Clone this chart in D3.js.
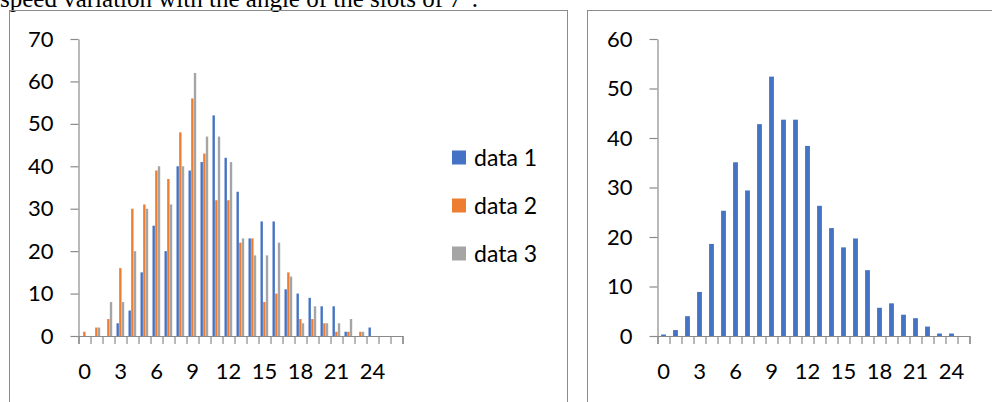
<!DOCTYPE html>
<html>
<head>
<meta charset="utf-8">
<script src="https://cdn.jsdelivr.net/npm/d3@7"></script>
<style>
  body { margin: 0; background: #fff; }
  svg { display: block; }
  text { font-family: Lato, "Open Sans", sans-serif; fill: #000; }
  .caption { font-family: "Liberation Serif", "Times New Roman", serif; font-size: 25px; }
</style>
</head>
<body>
<div id="chart"></div>
<script>
// left chart: three series, 27 categories
var cats1 = [0,1,2,3,4,5,6,7,8,9,10,11,12,13,14,15,16,17,18,19,20,21,22,23,24,25,26];
var data1 = [0,0,0,3,6,15,26,20,40,39,41,52,42,34,23,27,27,11,10,9,7,7,1,0,2,0,0];
var data2 = [1,2,4,16,30,31,39,37,48,56,43,32,32,22,23,8,10,15,4,4,3,1,1,1,0,0,0];
var data3 = [0,2,8,8,20,30,40,31,40,62,47,47,41,23,19,19,22,14,3,7,3,3,4,1,0,0,0];
var seriesNames = ["data 1", "data 2", "data 3"];
var yTicks1 = [0,10,20,30,40,50,60,70];

// right chart: one series, 26 categories
var cats2 = [0,1,2,3,4,5,6,7,8,9,10,11,12,13,14,15,16,17,18,19,20,21,22,23,24,25];
var values2 = [0.3,1.2,4.0,8.9,18.6,25.3,35.1,29.4,42.8,52.4,43.7,43.7,38.4,26.3,21.8,17.9,19.7,13.3,5.7,6.6,4.3,3.6,1.9,0.5,0.5,0];
var yTicks2 = [0,10,20,30,40,50,60];

var colors = ["#4472C4", "#ED7D31", "#A5A5A5"];
var axisColor = "#8a8a8a";

var svg = d3.select("#chart").append("svg")
    .attr("width", 992)
    .attr("height", 402);

// caption line, cut off at the top like in the page scan
svg.append("text")
    .attr("class", "caption")
    .attr("x", 0)
    .attr("y", 7)
    .attr("font-size", 25)
    .attr("textLength", 478)
    .attr("lengthAdjust", "spacingAndGlyphs")
    .text("speed variation with the angle of the slots of 7°.");

// frames
svg.append("rect").attr("x", 9.5).attr("y", 10.5).attr("width", 558).attr("height", 420)
    .style("fill", "none").style("stroke", "#8c8c8c");
svg.append("rect").attr("x", 587.5).attr("y", 10.5).attr("width", 420).attr("height", 420)
    .style("fill", "none").style("stroke", "#8c8c8c");

function styleAxis(g) {
  g.selectAll("path, line").style("stroke", axisColor).style("stroke-width", 1.2);
  g.selectAll("text").style("font-size", "22px").style("fill", "#000")
    .style("font-family", "Lato, 'Open Sans', sans-serif");
}

function drawAxes(x, y, cats, yTicks, x0, x1) {
  var nb = cats.length;
  // y axis
  svg.append("g")
      .attr("transform", "translate(" + x0 + ",0)")
      .call(d3.axisLeft(y).tickValues(yTicks).tickSize(8).tickSizeOuter(0).tickPadding(17))
      .call(styleAxis);
  // tick marks on category boundaries
  var edges = d3.scaleLinear().domain([0, nb]).range([x0, x1]);
  svg.append("g")
      .attr("transform", "translate(0," + y(0) + ")")
      .call(d3.axisBottom(edges).ticks(nb).tickFormat("").tickSize(8).tickSizeOuter(8))
      .call(styleAxis);
  // labels every third category
  svg.append("g")
      .attr("transform", "translate(0," + y(0) + ")")
      .call(d3.axisBottom(x).tickValues(cats.filter(function(d){ return d % 3 === 0; }))
        .tickSize(0).tickPadding(27))
      .call(function(g){ g.select(".domain").remove(); })
      .call(styleAxis);
}

// ---- left chart ----
var x1 = d3.scaleBand().domain(cats1).range([78.5, 402.5]).paddingInner(1/3).paddingOuter(1/6);
var y1 = d3.scaleLinear().domain([0, 70]).range([336, 39]);
var xs = d3.scaleBand().domain([0,1,2]).range([0, x1.bandwidth()]);
var allSeries = [data1, data2, data3];

allSeries.forEach(function(vals, s) {
  svg.append("g").selectAll("rect")
      .data(vals)
      .enter()
      .append("rect")
      .attr("x", function(d, i){ return x1(cats1[i]) + xs(s); })
      .attr("y", function(d){ return y1(d); })
      .attr("width", xs.bandwidth() - 0.3)
      .attr("height", function(d){ return y1(0) - y1(d); })
      .style("fill", colors[s]);
});
drawAxes(x1, y1, cats1, yTicks1, 78.5, 402.5);

// legend
var legend = svg.append("g").selectAll("g")
    .data(seriesNames)
    .enter()
    .append("g")
    .attr("transform", function(d, i){ return "translate(452," + (150.5 + i * 48) + ")"; });
legend.append("rect").attr("width", 14).attr("height", 14)
    .style("fill", function(d, i){ return colors[i]; });
legend.append("text").attr("x", 22).attr("y", 7).attr("dy", "0.36em")
    .style("font-size", "23px").text(function(d){ return d; });

// ---- right chart ----
var x2 = d3.scaleBand().domain(cats2).range([657.5, 969.5]).paddingInner(0.6).paddingOuter(0.3);
var y2 = d3.scaleLinear().domain([0, 60]).range([336, 39]);

svg.append("g").selectAll("rect")
    .data(values2)
    .enter()
    .append("rect")
    .attr("x", function(d, i){ return x2(cats2[i]); })
    .attr("y", function(d){ return y2(d); })
    .attr("width", x2.bandwidth())
    .attr("height", function(d){ return y2(0) - y2(d); })
    .style("fill", colors[0]);
drawAxes(x2, y2, cats2, yTicks2, 657.5, 969.5);
</script>
</body>
</html>
